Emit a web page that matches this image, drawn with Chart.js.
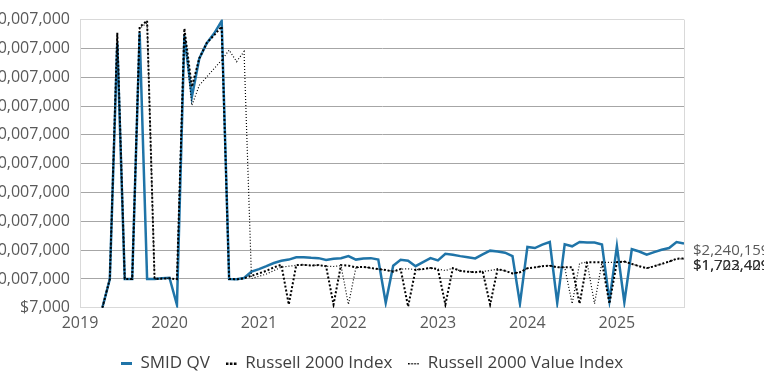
<!DOCTYPE html>
<html>
<head>
<meta charset="utf-8">
<script src="https://cdn.jsdelivr.net/npm/chart.js@4/dist/chart.umd.min.js"></script>
<style>
  html, body { margin: 0; padding: 0; background: #ffffff; }
  canvas { display: block; }
</style>
</head>
<body>
<canvas id="c" width="764" height="382"></canvas>
<script>
// ---- data ----
const months = [
  '2019-03','2019-04','2019-05','2019-06','2019-07','2019-08','2019-09','2019-10','2019-11','2019-12',
  '2020-01','2020-02','2020-03','2020-04','2020-05','2020-06','2020-07','2020-08','2020-09','2020-10','2020-11','2020-12',
  '2021-01','2021-02','2021-03','2021-04','2021-05','2021-06','2021-07','2021-08','2021-09','2021-10','2021-11','2021-12',
  '2022-01','2022-02','2022-03','2022-04','2022-05','2022-06','2022-07','2022-08','2022-09','2022-10','2022-11','2022-12',
  '2023-01','2023-02','2023-03','2023-04','2023-05','2023-06','2023-07','2023-08','2023-09','2023-10','2023-11','2023-12',
  '2024-01','2024-02','2024-03','2024-04','2024-05','2024-06','2024-07','2024-08','2024-09','2024-10','2024-11','2024-12',
  '2025-01','2025-02','2025-03','2025-04','2025-05','2025-06','2025-07','2025-08','2025-09'
];
const seriesNames = ['SMID QV', 'Russell 2000 Index', 'Russell 2000 Value Index'];
const smidQV = [
  10000, 1005000, 9200000, 1003000, 1004000, 9550000, 1006000, 1008000, 1030000, 1050000,
  110000, 9450000, 7320000, 8660000, 9190000, 9530000, 9960000, 1005000, 1000000, 1040000, 1260000, 1350000,
  1450000, 1560000, 1640000, 1680000, 1760000, 1760000, 1740000, 1730000, 1670000, 1710000, 1730000, 1800000,
  1680000, 1720000, 1730000, 1680000, 180000, 1470000, 1670000, 1640000, 1450000, 1590000, 1730000, 1650000,
  1880000, 1850000, 1800000, 1760000, 1720000, 1860000, 1990000, 1960000, 1920000, 1800000, 150000, 2120000,
  2080000, 2200000, 2290000, 180000, 2210000, 2140000, 2290000, 2270000, 2270000, 2200000, 250000, 2150000,
  200000, 2040000, 1960000, 1850000, 1940000, 2020000, 2080000, 2290000, 2240159
];
const russell2000 = [
  10000, 1005000, 9550000, 1003000, 1004000, 9750000, 9970000, 1008000, 1020000, 1030000,
  1000000, 9700000, 7670000, 8660000, 9200000, 9470000, 9770000, 1005000, 1000000, 1030000, 1120000, 1200000,
  1290000, 1410000, 1500000, 120000, 1490000, 1500000, 1470000, 1490000, 1450000, 120000, 1490000, 1470000,
  1410000, 1430000, 1390000, 1350000, 1320000, 1260000, 1350000, 50000, 1330000, 1350000, 1390000, 1350000,
  120000, 1380000, 1290000, 1260000, 1240000, 1270000, 120000, 1350000, 1290000, 1200000, 1240000, 1380000,
  1410000, 1450000, 1470000, 1410000, 1410000, 1410000, 150000, 1590000, 1590000, 1590000, 150000, 1590000,
  1610000, 1530000, 1450000, 1380000, 1450000, 1530000, 1610000, 1710000, 1722409
];
const russell2000Value = [
  10000, 1005000, 9400000, 1003000, 1004000, 9700000, 9900000, 1008000, 1020000, 1030000,
  1000000, 9600000, 7030000, 7730000, 8020000, 8310000, 8600000, 8950000, 8550000, 8900000, 1020000, 1100000,
  1180000, 1300000, 1420000, 1450000, 1480000, 1500000, 1470000, 1490000, 1450000, 1440000, 1470000, 120000,
  1400000, 1430000, 1380000, 1350000, 1320000, 1280000, 1350000, 1360000, 1330000, 1350000, 1390000, 1350000,
  1300000, 1380000, 1290000, 1260000, 1240000, 1270000, 1300000, 1350000, 1290000, 1200000, 1240000, 1380000,
  1410000, 1450000, 1470000, 1410000, 1410000, 150000, 1550000, 1590000, 150000, 1590000, 1580000, 1590000,
  1610000, 1530000, 1450000, 1380000, 1450000, 1530000, 1610000, 1700000, 1703429
];
const yearTicks = [2019, 2020, 2021, 2022, 2023, 2024, 2025];
const yearLabels = ['2019', '2020', '2021', '2022', '2023', '2024', '2025'];
const yTickValues = [7000, 1007000, 2007000, 3007000, 4007000, 5007000, 6007000, 7007000, 8007000, 9007000, 10007000];
const yTickLabels = ['$7,000', '$10,007,000', '$20,007,000', '$30,007,000', '$40,007,000', '$50,007,000',
                     '$60,007,000', '$70,007,000', '$80,007,000', '$90,007,000', '$100,007,000'];

// ---- helpers ----
function monthToYear(s) { const p = s.split('-'); return Number(p[0]) + Number(p[1]) / 12; }
function pts(vals) { return months.map((m, i) => ({ x: monthToYear(m), y: vals[i] })); }
function money(v) { return '$' + Math.round(v).toLocaleString('en-US'); }

const FONT = '"Open Sans", Lato, sans-serif';
const TXT = '#595959';
const BLUE = '#1f74a8';

// legend sample icons
function icon(kind) {
  const c = document.createElement('canvas');
  c.width = 11; c.height = 3;
  const g = c.getContext('2d');
  if (kind === 0) { g.fillStyle = BLUE; g.fillRect(0, 0, 11, 3); }
  else if (kind === 1) { g.fillStyle = '#000'; [0, 4, 8].forEach(x => g.fillRect(x, 0.5, 2.5, 2.5)); }
  else { g.fillStyle = '#000'; [0, 3, 6, 9].forEach(x => g.fillRect(x, 1, 1.5, 1.5)); }
  return c;
}
const icons = [icon(0), icon(1), icon(2)];

const endLabels = {
  id: 'endLabels',
  afterDatasetsDraw(chart) {
    const ctx = chart.ctx;
    ctx.save();
    ctx.font = '15px ' + FONT;
    ctx.textAlign = 'left';
    ctx.textBaseline = 'middle';
    const colors = ['#595959', '#333333', '#333333'];
    chart.data.datasets.forEach((ds, i) => {
      const meta = chart.getDatasetMeta(i);
      const el = meta.data[meta.data.length - 1];
      const v = ds.data[ds.data.length - 1].y;
      ctx.fillStyle = colors[i];
      ctx.fillText(money(v), el.x + 9, el.y + 7);
    });
    ctx.restore();
  }
};

const frame = {
  id: 'frame',
  beforeDatasetsDraw(chart) {
    const a = chart.chartArea, ctx = chart.ctx;
    ctx.save();
    ctx.strokeStyle = '#d9d9d9';
    ctx.lineWidth = 1;
    ctx.beginPath();
    ctx.moveTo(Math.round(a.right) + 0.5, a.top);
    ctx.lineTo(Math.round(a.right) + 0.5, a.bottom);
    ctx.stroke();
    ctx.restore();
  }
};

// center the legend on the full canvas width rather than the padded box
const legendShift = {
  id: 'legendShift',
  afterLayout(chart) {
    const lg = chart.legend;
    if (lg) { lg.left += 30; lg.right += 30; }
  }
};

new Chart(document.getElementById('c'), {
  type: 'line',
  data: {
    datasets: [
      { label: seriesNames[0], data: pts(smidQV), borderColor: BLUE, backgroundColor: BLUE,
        borderWidth: 2.5, pointRadius: 0, tension: 0, order: 3 },
      { label: seriesNames[1], data: pts(russell2000), borderColor: '#000000', backgroundColor: '#000000',
        borderWidth: 2, borderDash: [2, 2], pointRadius: 0, tension: 0, order: 2 },
      { label: seriesNames[2], data: pts(russell2000Value), borderColor: '#000000', backgroundColor: '#000000',
        borderWidth: 1.2, borderDash: [1, 2], pointRadius: 0, tension: 0, order: 1 }
    ]
  },
  options: {
    responsive: false,
    animation: false,
    devicePixelRatio: 1,
    layout: { padding: { left: 0, right: 80, top: 19, bottom: 0 } },
    plugins: {
      tooltip: { enabled: false },
      legend: {
        position: 'bottom',
        labels: {
          usePointStyle: true,
          pointStyleWidth: 11,
          boxHeight: 8,
          padding: 16,
          color: '#404040',
          font: { family: FONT, size: 17 },
          sort: (a, b) => a.datasetIndex - b.datasetIndex,
          generateLabels: (chart) => {
            const items = Chart.defaults.plugins.legend.labels.generateLabels(chart);
            items.forEach(it => { it.pointStyle = icons[it.datasetIndex]; it.lineDash = []; });
            return items;
          }
        }
      }
    },
    scales: {
      x: {
        type: 'linear',
        min: monthToYear('2019-00'),
        max: monthToYear(months[months.length - 1]),
        afterBuildTicks: s => { s.ticks = yearTicks.map(v => ({ value: v })); },
        ticks: {
          padding: 6,
          color: TXT,
          font: { family: FONT, size: 16 },
          maxRotation: 0,
          autoSkip: false,
          callback: (v) => yearLabels[yearTicks.indexOf(v)]
        },
        grid: { display: true, color: 'transparent', drawTicks: false },
        border: { display: true, color: '#d9d9d9', width: 1 }
      },
      y: {
        type: 'linear',
        min: yTickValues[0],
        max: yTickValues[yTickValues.length - 1],
        afterBuildTicks: s => { s.ticks = yTickValues.map(v => ({ value: v })); },
        afterFit: s => { s.width = 80; },
        ticks: {
          padding: 10,
          color: TXT,
          font: { family: FONT, size: 16 },
          autoSkip: false,
          callback: (v, i) => yTickLabels[i]
        },
        grid: {
          drawTicks: false,
          color: c => (c.index === 0 || c.index === yTickValues.length - 1) ? '#d9d9d9' : '#a6a6a6',
          lineWidth: 1
        },
        border: { display: true, color: '#d9d9d9', width: 1 }
      }
    }
  },
  plugins: [frame, endLabels, legendShift]
});
</script>
</body>
</html>
